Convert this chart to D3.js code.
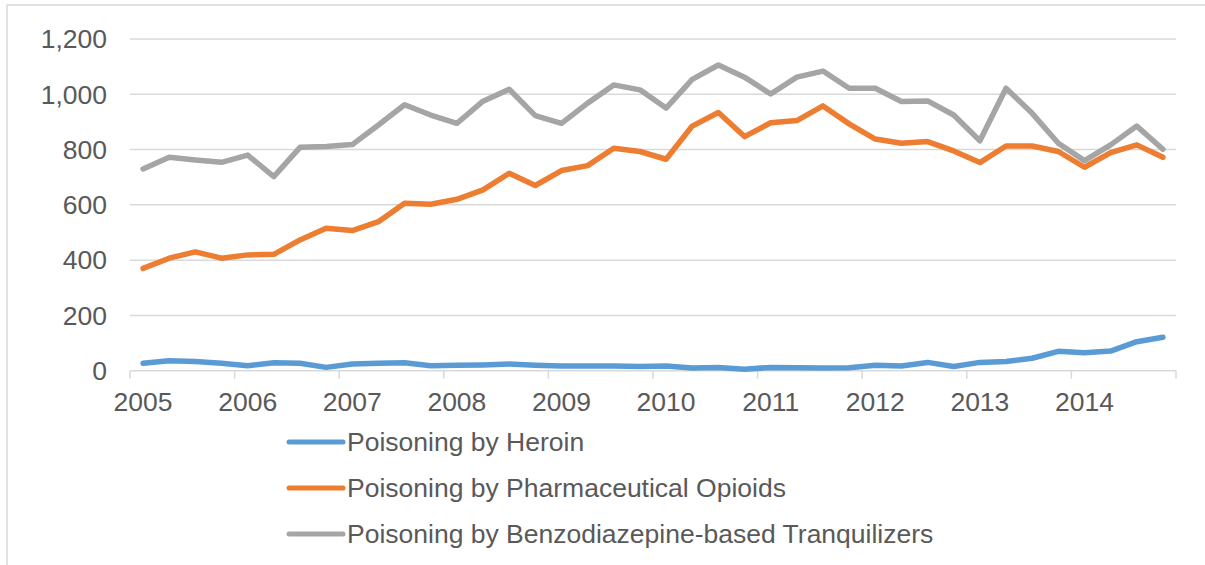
<!DOCTYPE html>
<html>
<head>
<meta charset="utf-8">
<script src="https://cdn.jsdelivr.net/npm/d3@7"></script>
<style>
  body { margin: 0; background: #fff; }
  text { font-family: "Liberation Sans", Arial, sans-serif; fill: #595959; }
</style>
</head>
<body>
<div id="graph"></div>
<script>
var width = 1205, height = 565

var years = ['2005', '2006', '2007', '2008', '2009', '2010', '2011', '2012', '2013', '2014']
var quarters = []
years.forEach(function(y){ [1, 2, 3, 4].forEach(function(q){ quarters.push(y + ' Q' + q) }) })

var yTicks = [0, 200, 400, 600, 800, 1000, 1200]

var heroin = [27, 36, 33, 27, 18, 29, 27, 12, 24, 27, 29, 18, 20,
  21, 24, 20, 17, 17, 17, 15, 17, 10, 12, 5, 12, 11, 10,
  11, 20, 17, 30, 15, 30, 33, 45, 70, 65, 71, 105, 121]
var pharma = [370, 407, 430, 407, 419, 421, 473, 515, 507, 539, 606, 602, 620,
  654, 714, 670, 724, 742, 805, 793, 765, 885, 934, 847, 897, 905, 958,
  893, 838, 823, 829, 795, 753, 813, 813, 793, 736, 789, 817, 772]
var benzo = [730, 772, 762, 754, 780, 702, 808, 811, 818, 889, 962, 925, 895,
  975, 1018, 923, 895, 968, 1034, 1016, 950, 1054, 1106, 1062, 1001, 1062, 1084,
  1022, 1022, 974, 976, 925, 832, 1022, 931, 823, 760, 817, 885, 801]

var seriesNames = ['Poisoning by Heroin', 'Poisoning by Pharmaceutical Opioids', 'Poisoning by Benzodiazepine-based Tranquilizers']
var colors = ['#5B9BD5', '#ED7D31', '#A5A5A5']

var series = [heroin, pharma, benzo].map(function(values, i){
  return {name: seriesNames[i], color: colors[i], values: values}
})

var x = d3.scaleBand().domain(quarters).range([130, 1176])
var y = d3.scaleLinear().domain([0, 1200]).range([370.7, 39])

var svg = d3.select('#graph').append('svg')
    .attr('width', width).attr('height', height)

// chart frame (only the left and top edges are visible)
svg.append('rect')
    .attr('x', 7).attr('y', 5).attr('width', 1300).attr('height', 700)
    .attr('fill', 'none').attr('stroke', '#d9d9d9').attr('stroke-width', 1.5)

// gridlines + y labels
var yAxis = svg.append('g')
yAxis.selectAll('line').data(yTicks.slice(1)).enter().append('line')
    .attr('x1', 130).attr('x2', 1176)
    .attr('y1', y).attr('y2', y)
    .attr('stroke', '#d9d9d9').attr('stroke-width', 1.5)
yAxis.selectAll('text').data(yTicks).enter().append('text')
    .attr('x', 107).attr('y', y).attr('dy', '0.35em')
    .attr('text-anchor', 'end').style('font-size', '26.5px')
    .text(d3.format(','))

// x axis line, ticks between years, labels on first quarter
var xAxis = svg.append('g')
xAxis.append('line')
    .attr('x1', 130).attr('x2', 1176).attr('y1', y(0)).attr('y2', y(0))
    .attr('stroke', '#d9d9d9').attr('stroke-width', 1.5)
var tickPos = years.map(function(d){ return x(d + ' Q1') }).concat([x.range()[1]])
xAxis.selectAll('line.tick').data(tickPos).enter().append('line')
    .attr('class', 'tick')
    .attr('x1', function(d){ return d }).attr('x2', function(d){ return d })
    .attr('y1', y(0)).attr('y2', y(0) + 8)
    .attr('stroke', '#d9d9d9').attr('stroke-width', 1.5)
xAxis.selectAll('text').data(years).enter().append('text')
    .attr('x', function(d){ return x(d + ' Q1') + x.bandwidth() / 2 })
    .attr('y', 411)
    .attr('text-anchor', 'middle').style('font-size', '26.5px')
    .text(function(d){ return d })

var line = d3.line()
    .x(function(d, i){ return x(quarters[i]) + x.bandwidth() / 2 })
    .y(function(d){ return y(d) })

svg.append('g').selectAll('path').data(series).enter().append('path')
    .attr('d', function(d){ return line(d.values) })
    .attr('fill', 'none')
    .attr('stroke', function(d){ return d.color })
    .attr('stroke-width', 5.5)
    .attr('stroke-linejoin', 'round')
    .attr('stroke-linecap', 'round')

// legend
var legend = svg.append('g').selectAll('g').data(series).enter().append('g')
    .attr('transform', function(d, i){ return 'translate(0,' + (442 + i * 46) + ')' })
legend.append('line')
    .attr('x1', 289).attr('x2', 343)
    .attr('stroke', function(d){ return d.color })
    .attr('stroke-width', 5).attr('stroke-linecap', 'round')
legend.append('text')
    .attr('x', 347).attr('y', 0).attr('dy', '0.35em')
    .style('font-size', '26.5px')
    .text(function(d){ return d.name })
</script>
</body>
</html>
